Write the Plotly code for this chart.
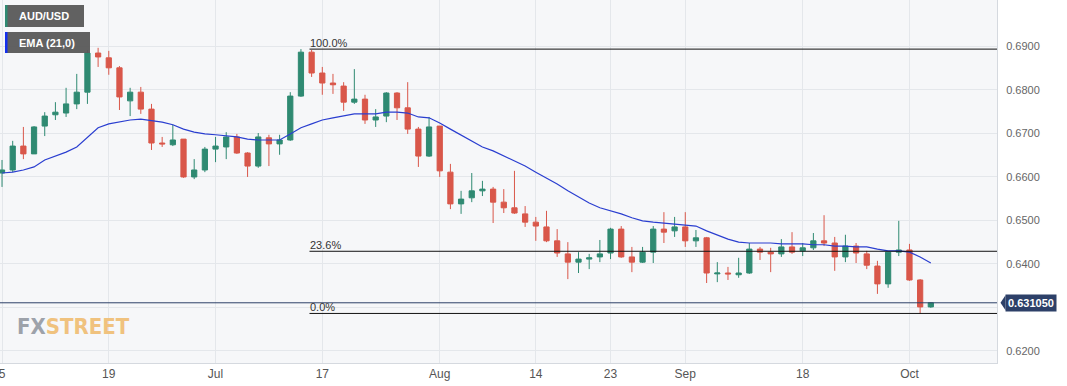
import plotly.graph_objects as go
import pandas as pd

# ---------------- data ----------------
dates = pd.bdate_range("2023-06-05", periods=88).strftime("%Y-%m-%d").tolist()

opens = [0.6609, 0.6616, 0.6671, 0.6653, 0.6717, 0.6743, 0.6747, 0.6768, 0.6795, 0.6885,
         0.6874, 0.6851, 0.6775, 0.6795, 0.6756, 0.6678, 0.6674, 0.6687, 0.6600, 0.6616,
         0.6664, 0.6669, 0.6692, 0.6655, 0.6625, 0.6690, 0.6676, 0.6685, 0.6786, 0.6887,
         0.6839, 0.6816, 0.6809, 0.6772, 0.6779, 0.6731, 0.6740, 0.6793, 0.6759, 0.6710,
         0.6648, 0.6717, 0.6611, 0.6538, 0.6552, 0.6568, 0.6572, 0.6542, 0.6529, 0.6515,
         0.6496, 0.6485, 0.6453, 0.6423, 0.6404, 0.6411, 0.6416, 0.6425, 0.6480, 0.6416,
         0.6404, 0.6427, 0.6480, 0.6476, 0.6485, 0.6453, 0.6460, 0.6377, 0.6379, 0.6375,
         0.6379, 0.6434, 0.6427, 0.6423, 0.6439, 0.6430, 0.6437, 0.6453, 0.6448, 0.6416,
         0.6441, 0.6423, 0.6395, 0.6354, 0.6427, 0.6432, 0.6363, 0.6301]
closes = [0.6616, 0.6671, 0.6653, 0.6715, 0.6740, 0.6749, 0.6768, 0.6795, 0.6885, 0.6876,
          0.6851, 0.6784, 0.6795, 0.6756, 0.6678, 0.6676, 0.6685, 0.6600, 0.6616, 0.6664,
          0.6671, 0.6692, 0.6655, 0.6625, 0.6692, 0.6676, 0.6685, 0.6786, 0.6887, 0.6839,
          0.6816, 0.6812, 0.6772, 0.6779, 0.6731, 0.6738, 0.6793, 0.6759, 0.6710, 0.6648,
          0.6715, 0.6614, 0.6538, 0.6549, 0.6568, 0.6572, 0.6542, 0.6529, 0.6517, 0.6496,
          0.6487, 0.6453, 0.6425, 0.6404, 0.6411, 0.6414, 0.6423, 0.6480, 0.6416, 0.6404,
          0.6427, 0.6480, 0.6473, 0.6485, 0.6453, 0.6460, 0.6379, 0.6379, 0.6377, 0.6379,
          0.6434, 0.6427, 0.6423, 0.6439, 0.6427, 0.6437, 0.6453, 0.6448, 0.6416, 0.6441,
          0.6425, 0.6397, 0.6354, 0.6427, 0.6432, 0.6363, 0.6301, 0.63105]
highs = [0.6639, 0.6683, 0.6715, 0.6717, 0.6749, 0.6772, 0.6805, 0.6837, 0.6892, 0.6897,
         0.6890, 0.6855, 0.6805, 0.6807, 0.6768, 0.6692, 0.6720, 0.6687, 0.6641, 0.6669,
         0.6692, 0.6703, 0.6699, 0.6657, 0.6701, 0.6697, 0.6697, 0.6795, 0.6894, 0.6892,
         0.6853, 0.6837, 0.6818, 0.6848, 0.6789, 0.6756, 0.6795, 0.6795, 0.6818, 0.6715,
         0.6738, 0.6717, 0.6630, 0.6568, 0.6609, 0.6591, 0.6577, 0.6572, 0.6614, 0.6533,
         0.6508, 0.6522, 0.6480, 0.6450, 0.6427, 0.6423, 0.6455, 0.6483, 0.6487, 0.6439,
         0.6439, 0.6487, 0.6519, 0.6508, 0.6519, 0.6478, 0.6462, 0.6404, 0.6393, 0.6414,
         0.6448, 0.6439, 0.6437, 0.6457, 0.6473, 0.6448, 0.6471, 0.6512, 0.6462, 0.6467,
         0.6448, 0.6430, 0.6407, 0.6427, 0.6499, 0.6446, 0.6365, 0.6312]
lows = [0.6577, 0.6611, 0.6641, 0.6653, 0.6694, 0.6731, 0.6738, 0.6756, 0.6768, 0.6853,
        0.6835, 0.6754, 0.6740, 0.6745, 0.6662, 0.6669, 0.6671, 0.6598, 0.6595, 0.6611,
        0.6634, 0.6641, 0.6653, 0.6600, 0.6621, 0.6625, 0.6651, 0.6683, 0.6784, 0.6830,
        0.6789, 0.6791, 0.6752, 0.6768, 0.6722, 0.6715, 0.6726, 0.6731, 0.6699, 0.6623,
        0.6646, 0.6600, 0.6526, 0.6515, 0.6542, 0.6556, 0.6494, 0.6517, 0.6515, 0.6485,
        0.6453, 0.6450, 0.6416, 0.6365, 0.6379, 0.6388, 0.6404, 0.6411, 0.6414, 0.6381,
        0.6402, 0.6402, 0.6448, 0.6462, 0.6439, 0.6439, 0.6356, 0.6358, 0.6363, 0.6368,
        0.6377, 0.6409, 0.6381, 0.6416, 0.6423, 0.6418, 0.6432, 0.6441, 0.6384, 0.6404,
        0.6402, 0.6388, 0.6331, 0.6345, 0.6418, 0.6361, 0.6285, 0.6299]
ema21 = [0.6609, 0.6611, 0.6616, 0.6623, 0.6639, 0.6648, 0.6657, 0.6669, 0.6692, 0.6713,
         0.6722, 0.6726, 0.6731, 0.6733, 0.6729, 0.6726, 0.6720, 0.6710, 0.6703, 0.6699,
         0.6697, 0.6694, 0.6692, 0.6687, 0.6685, 0.6685, 0.6685, 0.6699, 0.6713, 0.6722,
         0.6731, 0.6736, 0.6740, 0.6745, 0.6745, 0.6745, 0.6749, 0.6749, 0.6747, 0.6738,
         0.6736, 0.6724, 0.6710, 0.6697, 0.6683, 0.6669, 0.6660, 0.6648, 0.6637, 0.6625,
         0.6611, 0.6598, 0.6584, 0.6568, 0.6554, 0.6540, 0.6529, 0.6522, 0.6515, 0.6506,
         0.6499, 0.6496, 0.6494, 0.6492, 0.6490, 0.6487, 0.6476, 0.6467, 0.6457, 0.6450,
         0.6448, 0.6448, 0.6448, 0.6446, 0.6446, 0.6446, 0.6444, 0.6444, 0.6441, 0.6441,
         0.6439, 0.6439, 0.6434, 0.6430, 0.6430, 0.6427, 0.6416, 0.6402]

tick_dates = ["2023-06-05", "2023-06-19", "2023-07-03", "2023-07-17", "2023-08-01",
              "2023-08-14", "2023-08-23", "2023-09-01", "2023-09-18", "2023-10-02"]
tick_labels = ["5", "19", "Jul", "17", "Aug", "14", "23", "Sep", "18", "Oct"]

y_ticks = [0.62, 0.63, 0.64, 0.65, 0.66, 0.67, 0.68, 0.69]
y_ticklabels = ["0.6200", "", "0.6400", "0.6500", "0.6600", "0.6700", "0.6800", "0.6900"]

fib_levels = [0.6894, 0.6429, 0.6286]
fib_labels = ["100.0%", "23.6%", "0.0%"]
fib_start = 28.8  # position (in candle index) where the retracement starts

last_price = 0.63105
last_label = "0.631050"

# ---------------- styling ----------------
W, H = 1067, 386
ML, MR, MT, MB = 0, 70, 0, 23
PW, PH = W - ML - MR, H - MT - MB
Y_RANGE = [0.6172, 0.7007]
X_RANGE = [-0.19, 93.2]

GREEN = "#2f8a72"
RED = "#d9574a"
GRID = "#e4e7eb"


def px_x(p):
    return p / PW


def px_y(p):
    return 1 - p / PH


fig = go.Figure()
fig.add_trace(go.Candlestick(
    x=dates, open=opens, high=highs, low=lows, close=closes,
    increasing=dict(line=dict(color=GREEN, width=1), fillcolor=GREEN),
    decreasing=dict(line=dict(color=RED, width=1), fillcolor=RED),
    whiskerwidth=0, showlegend=False, hoverinfo="skip",
))
fig.add_trace(go.Scatter(
    x=dates, y=ema21, mode="lines",
    line=dict(color="#2a3ed0", width=1.2), showlegend=False, hoverinfo="skip",
))

shapes = []
# fibonacci lines
for lvl in fib_levels:
    shapes.append(dict(type="line", xref="x", yref="y", x0=fib_start, x1=X_RANGE[1],
                       y0=lvl, y1=lvl, line=dict(color="#111111", width=1)))
# last price line
shapes.append(dict(type="line", xref="paper", yref="y", x0=0, x1=1,
                   y0=last_price, y1=last_price, line=dict(color="#2d4068", width=1)))
# legend boxes
shapes += [
    dict(type="rect", xref="paper", yref="paper", x0=px_x(5), x1=px_x(84),
         y0=px_y(27), y1=px_y(5), fillcolor="rgba(88,88,88,0.95)", line=dict(width=0)),
    dict(type="rect", xref="paper", yref="paper", x0=px_x(5), x1=px_x(7.5),
         y0=px_y(27), y1=px_y(5), fillcolor="#2f8a72", line=dict(width=0)),
    dict(type="rect", xref="paper", yref="paper", x0=px_x(5), x1=px_x(90),
         y0=px_y(53), y1=px_y(32), fillcolor="rgba(88,88,88,0.95)", line=dict(width=0)),
    dict(type="rect", xref="paper", yref="paper", x0=px_x(5), x1=px_x(7.5),
         y0=px_y(53), y1=px_y(32), fillcolor="#1530ee", line=dict(width=0)),
]
# price tag arrow
lp_py = (Y_RANGE[1] - last_price) / (Y_RANGE[1] - Y_RANGE[0]) * PH
shapes.append(dict(type="path", xref="paper", yref="paper",
                   path=f"M {px_x(1000.5)},{px_y(lp_py)} L {px_x(1005.5)},{px_y(lp_py - 7.5)} "
                        f"L {px_x(1005.5)},{px_y(lp_py + 7.5)} Z",
                   fillcolor="#2d4068", line=dict(width=0)))

annotations = []
for lvl, lab in zip(fib_levels, fib_labels):
    annotations.append(dict(x=fib_start, y=lvl, xref="x", yref="y", text=lab,
                            showarrow=False, xanchor="left", yanchor="bottom",
                            font=dict(family="Arial, Liberation Sans, sans-serif", size=11, color="#333333"),
                            xshift=-1, yshift=-2))
annotations += [
    dict(x=px_x(17), y=px_y(16.5), xref="paper", yref="paper", text="<b>AUD/USD</b>",
         showarrow=False, xanchor="left", yanchor="middle",
         font=dict(family="Arial, Liberation Sans, sans-serif", size=11, color="white")),
    dict(x=px_x(17), y=px_y(43), xref="paper", yref="paper", text="<b>EMA (21,0)</b>",
         showarrow=False, xanchor="left", yanchor="middle",
         font=dict(family="Arial, Liberation Sans, sans-serif", size=11, color="white")),
    dict(x=1, y=last_price, xref="paper", yref="y", text=f"<b>{last_label}</b>",
         showarrow=False, xanchor="left", yanchor="middle", xshift=8,
         bgcolor="#2d4068", borderpad=2,
         font=dict(family="Arial, Liberation Sans, sans-serif", size=11, color="white")),
    dict(x=px_x(15), y=px_y(326), xref="paper", yref="paper",
         text="<b><span style='color:#9da2aa'>FX</span><span style='color:#f0c27e'>STREET</span></b>",
         showarrow=False, xanchor="left", yanchor="middle",
         font=dict(family="DejaVu Sans Condensed, Liberation Sans Narrow, Arial Narrow, sans-serif", size=22)),
]

fig.update_layout(
    width=W, height=H, autosize=False,
    margin=dict(l=ML, r=MR, t=MT, b=MB, pad=0),
    paper_bgcolor="white", plot_bgcolor="#f6f7f9",
    shapes=shapes, annotations=annotations,
    hovermode=False,
    xaxis=dict(type="category", range=X_RANGE, tickmode="array",
               tickvals=tick_dates, ticktext=tick_labels,
               showgrid=True, gridcolor=GRID, gridwidth=1,
               showline=True, linecolor="#d5d9df", linewidth=1,
               ticks="", zeroline=False, rangeslider=dict(visible=False),
               tickfont=dict(family="Liberation Sans Narrow, Arial Narrow, sans-serif", size=12, color="#555555")),
    yaxis=dict(side="right", range=Y_RANGE, tickmode="array",
               tickvals=y_ticks, ticktext=y_ticklabels,
               showgrid=True, gridcolor=GRID, gridwidth=1,
               showline=True, linecolor="#d5d9df", linewidth=1,
               ticks="outside", ticklen=6, tickcolor="rgba(0,0,0,0)", zeroline=False,
               tickfont=dict(family="Arial, Liberation Sans, sans-serif", size=11, color="#666666")),
)

fig.write_html("out.html", config={"displayModeBar": False},
               post_script="document.body.style.margin='0';document.body.style.overflow='hidden';")
